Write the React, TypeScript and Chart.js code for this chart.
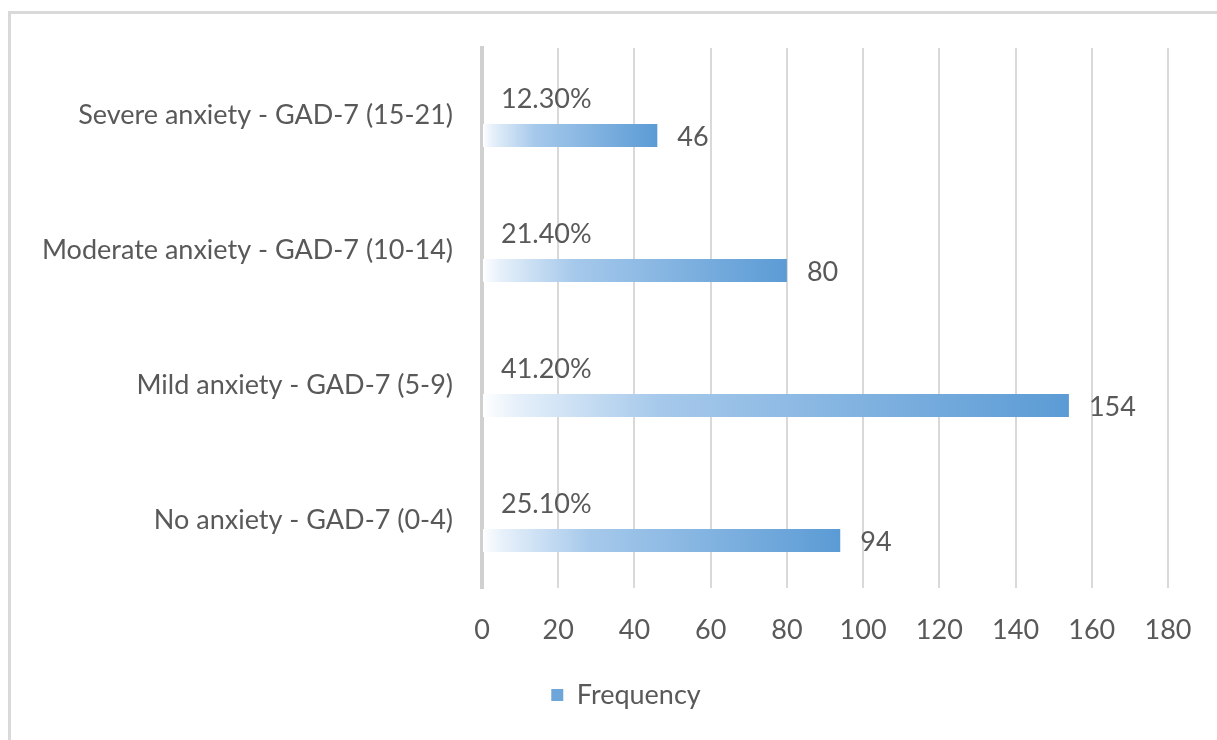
import React, { useEffect, useRef } from "react";
import { Chart, registerables } from "chart.js";

Chart.register(...registerables);

const categories = [
  "Severe anxiety - GAD-7 (15-21)",
  "Moderate anxiety - GAD-7 (10-14)",
  "Mild anxiety - GAD-7 (5-9)",
  "No anxiety - GAD-7 (0-4)",
];
const frequency = [46, 80, 154, 94];
const percentages = [12.3, 21.4, 41.2, 25.1];
const xTicks = [0, 20, 40, 60, 80, 100, 120, 140, 160, 180];

const FONT = "Lato, 'Open Sans', sans-serif";
const TEXT = "#595959";
const FS = 27;

const labelPlugin = {
  id: "barLabels",
  afterLayout(chart: any) {
    // let the category labels extend left past the legend's padding
    if (chart.scales.y) chart.scales.y.left = 0;
  },
  afterDatasetsDraw(chart: any) {
    const ctx = chart.ctx;
    const m0 = chart.getDatasetMeta(0);
    const m1 = chart.getDatasetMeta(1);
    ctx.save();
    ctx.font = `${FS}px ${FONT}`;
    ctx.fillStyle = TEXT;
    ctx.textBaseline = "middle";
    ctx.textAlign = "left";
    m1.data.forEach((bar: any, i: number) => {
      ctx.fillText(String(frequency[i]), bar.x + 20, bar.y + 2);
      const p = m0.data[i];
      ctx.fillText(percentages[i].toFixed(2) + "%", bar.base + 18, p.y + 4);
    });
    ctx.restore();
  },
};

export default function App() {
  const ref = useRef<HTMLCanvasElement>(null);
  useEffect(() => {
    if (!ref.current) return;
    const chart = new Chart(ref.current, {
      type: "bar",
      data: {
        labels: categories,
        datasets: [
          {
            label: "Percent",
            data: percentages.map((p) => p / 100),
            backgroundColor: "rgba(0,0,0,0)",
            categoryPercentage: 0.593,
            barPercentage: 0.575,
          },
          {
            label: "Frequency",
            data: frequency,
            categoryPercentage: 0.593,
            barPercentage: 0.575,
            backgroundColor: (c: any) => {
              const chart = c.chart;
              if (!chart.chartArea || c.raw == null) return "#5b9bd5";
              const xs = chart.scales.x;
              const x0 = xs.getPixelForValue(0);
              const x1 = xs.getPixelForValue(c.raw);
              const g = chart.ctx.createLinearGradient(x0, 0, x1, 0);
              g.addColorStop(0, "#ffffff");
              g.addColorStop(0.06, "#e6f0fa");
              g.addColorStop(0.3, "#a6c9eb");
              g.addColorStop(1, "#5b9bd5");
              return g;
            },
          },
        ],
      },
      options: {
        indexAxis: "y",
        responsive: true,
        maintainAspectRatio: false,
        animation: false,
        layout: { padding: { top: 40, right: 41, bottom: 13.5, left: 76 } },
        scales: {
          x: {
            min: 0,
            max: 180,
            afterBuildTicks: (s: any) => {
              s.ticks = xTicks.map((v) => ({ value: v }));
            },
            afterFit: (s: any) => {
              s.height = 70;
              s.paddingLeft = 0;
              s.paddingRight = 0;
            },
            grid: { color: "#d9d9d9", lineWidth: 2, drawTicks: false },
            border: { display: false },
            ticks: { color: TEXT, font: { family: FONT, size: FS }, padding: 26 },
          },
          y: {
            afterFit: (s: any) => {
              s.width = 398;
            },
            grid: { display: false },
            border: { display: true, color: "#d0d0d0", width: 4 },
            ticks: { color: TEXT, font: { family: FONT, size: FS }, padding: 21 },
          },
        },
        plugins: {
          legend: {
            position: "bottom",
            labels: {
              color: TEXT,
              font: { family: FONT, size: FS },
              boxWidth: 12,
              boxHeight: 12,
              padding: 23.5,
              generateLabels: () => [
                {
                  text: "Frequency",
                  fillStyle: "#6fa6da",
                  strokeStyle: "#6fa6da",
                  lineWidth: 0,
                  hidden: false,
                  datasetIndex: 1,
                  fontColor: TEXT,
                },
              ],
            },
          },
          tooltip: { enabled: false },
        },
      },
      plugins: [labelPlugin],
    } as any);
    return () => chart.destroy();
  }, []);

  return (
    <div style={{ position: "relative", width: 1201, height: 724 }}>
      <div
        style={{
          position: "fixed",
          left: 8,
          top: 11,
          right: 0,
          bottom: 0,
          borderTop: "3px solid #d9d9d9",
          borderLeft: "3px solid #d9d9d9",
          pointerEvents: "none",
        }}
      />
      <canvas ref={ref} />
    </div>
  );
}
